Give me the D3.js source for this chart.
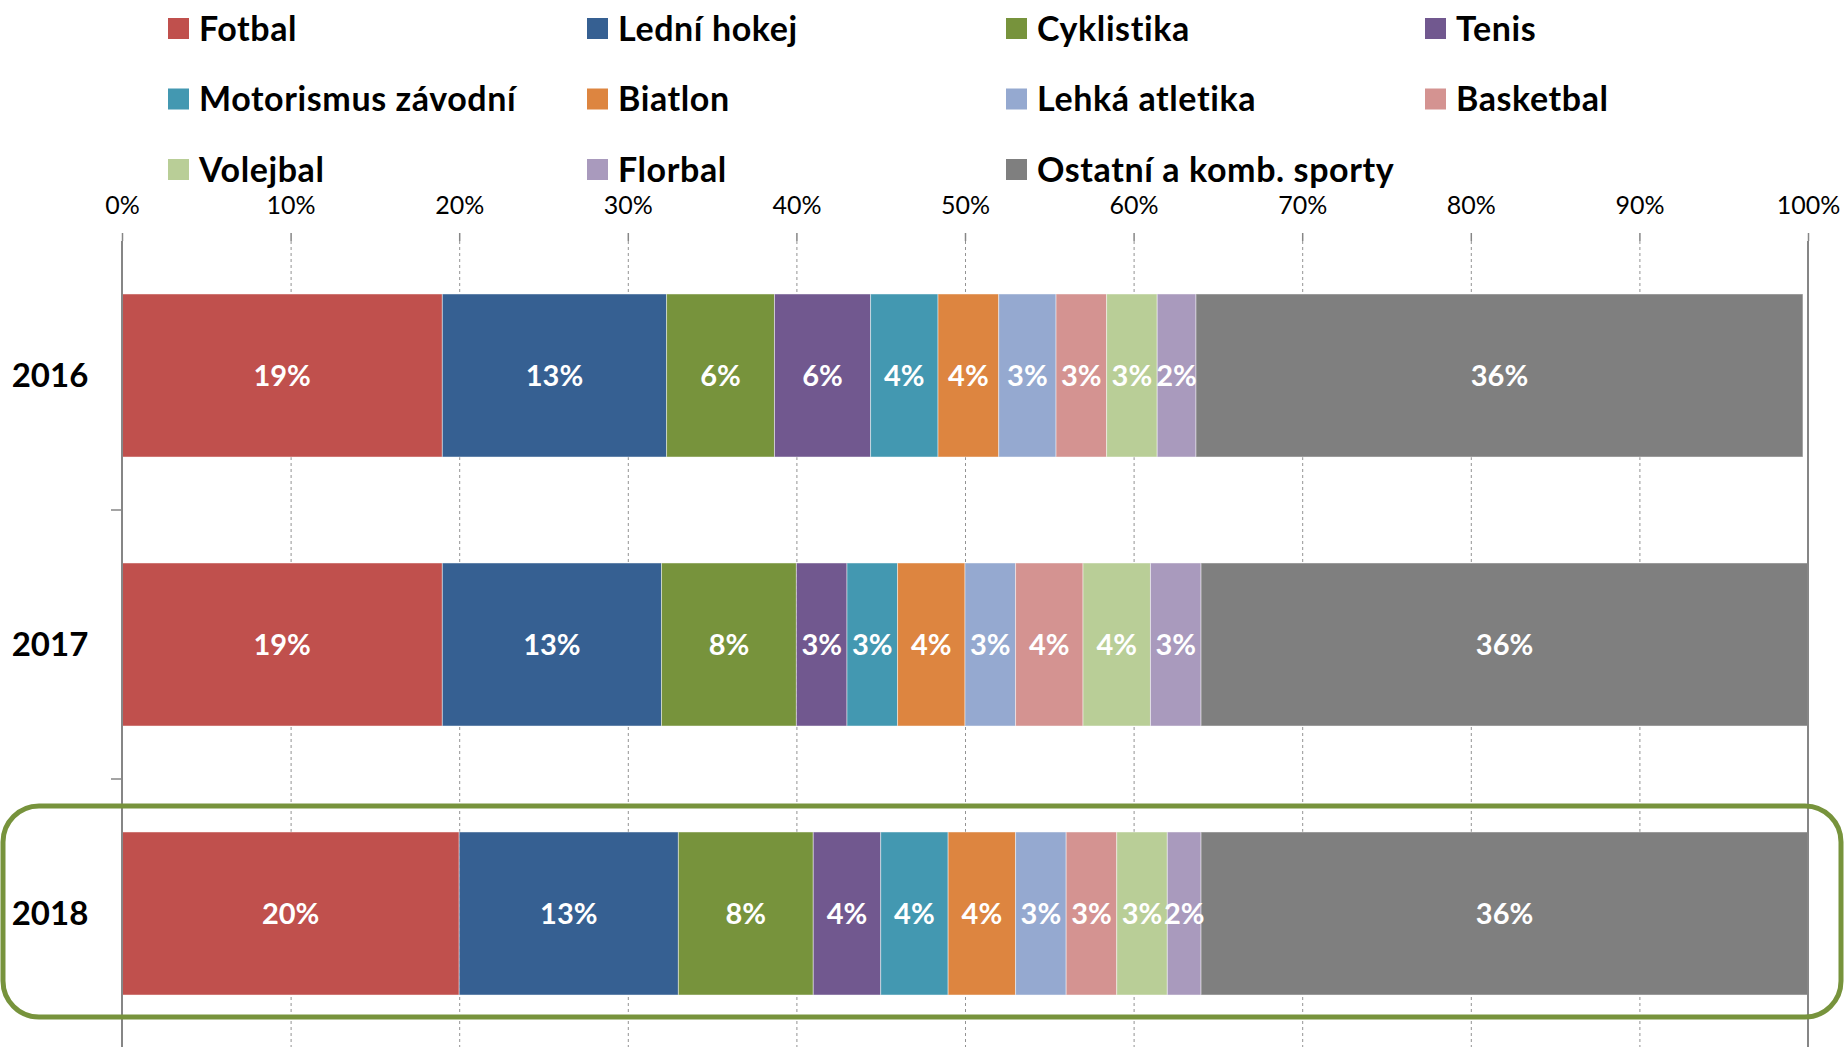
<!DOCTYPE html>
<html>
<head>
<meta charset="utf-8">
<script src="https://cdn.jsdelivr.net/npm/d3@7.9.0/dist/d3.min.js"></script>
<style>
  html, body { margin: 0; padding: 0; background: #fff; }
  svg { display: block; font-family: Lato, "Open Sans", sans-serif; }
</style>
</head>
<body>
<div id="chart"></div>
<script>
// ------- data (percent shares) -------
const years = ['2016', '2017', '2018'];
const sports = [
  'Fotbal', 'Lední hokej', 'Cyklistika', 'Tenis',
  'Motorismus závodní', 'Biatlon', 'Lehká atletika', 'Basketbal',
  'Volejbal', 'Florbal', 'Ostatní a komb. sporty'
];
const colors = [
  '#C0504D', '#366092', '#77933C', '#71588F',
  '#4398B1', '#DD8540', '#95A9D0', '#D49391',
  '#B9CE97', '#A99ABD', '#7F7F7F'
];
const values2016 = [19.0, 13.3, 6.4, 5.7, 4.0, 3.6, 3.4, 3.0, 3.0, 2.3, 36.0];
const values2017 = [19.0, 13.0, 8.0, 3.0, 3.0, 4.0, 3.0, 4.0, 4.0, 3.0, 36.0];
const values2018 = [20.0, 13.0, 8.0, 4.0, 4.0, 4.0, 3.0, 3.0, 3.0, 2.0, 36.0];
const xTicks = [0, 10, 20, 30, 40, 50, 60, 70, 80, 90, 100];
const highlightYear = '2018';

const valuesByYear = { '2016': values2016, '2017': values2017, '2018': values2018 };

// ------- layout -------
const width = 1845, height = 1047;
const plot = { left: 122, right: 1808, top: 241, bottom: 1048 };

const svg = d3.select('#chart').append('svg')
  .attr('width', width)
  .attr('height', height);

const x = d3.scaleLinear().domain([0, 100]).range([plot.left, plot.right]);
const y = d3.scaleBand().domain(years)
  .range([plot.top, plot.bottom])
  .paddingInner(0.394)
  .paddingOuter(0.197);

// stacked segments
const segments = years.flatMap(year => {
  let acc = 0;
  return valuesByYear[year].map((v, i) => {
    const seg = { year, sport: sports[i], color: colors[i], x0: acc, x1: acc + v, value: v };
    acc += v;
    return seg;
  });
});

// ------- gridlines -------
svg.append('g')
  .attr('class', 'gridlines')
  .selectAll('line')
  .data(xTicks.filter(t => t > 0 && t < 100))
  .join('line')
  .attr('x1', d => x(d) + 0.5).attr('x2', d => x(d) + 0.5)
  .attr('y1', plot.top).attr('y2', height)
  .attr('stroke', '#939393')
  .attr('stroke-width', 1)
  .attr('stroke-dasharray', '3,3');

// ------- bars -------
const bars = svg.append('g').attr('class', 'bars');
bars.selectAll('rect')
  .data(segments)
  .join('rect')
  .attr('x', d => x(d.x0))
  .attr('y', d => y(d.year))
  .attr('width', d => x(d.x1) - x(d.x0))
  .attr('height', y.bandwidth())
  .attr('fill', d => d.color)
  .attr('stroke', 'rgba(255,255,255,0.45)')
  .attr('stroke-width', 1);

bars.selectAll('text')
  .data(segments)
  .join('text')
  .attr('x', d => x((d.x0 + d.x1) / 2))
  .attr('y', d => y(d.year) + y.bandwidth() / 2)
  .attr('dy', '0.36em')
  .attr('text-anchor', 'middle')
  .attr('fill', '#fff')
  .attr('font-weight', 700)
  .attr('font-size', 29)
  .text(d => Math.round(d.value) + '%');

// ------- axes -------
const xAxis = d3.axisTop(x)
  .tickValues(xTicks)
  .tickSize(8)
  .tickPadding(19)
  .tickFormat(d => d + '%');

const gx = svg.append('g')
  .attr('transform', `translate(0,${plot.top})`)
  .call(xAxis);
gx.select('.domain').remove();
gx.selectAll('.tick line').attr('stroke', '#868686').attr('stroke-width', 1.5);
gx.selectAll('.tick text')
  .attr('font-size', 25)
  .attr('font-family', 'Lato, sans-serif')
  .attr('fill', '#000');

// left category axis
svg.append('line')
  .attr('x1', plot.left).attr('x2', plot.left)
  .attr('y1', plot.top).attr('y2', height)
  .attr('stroke', '#868686').attr('stroke-width', 2);

// 100% border line
svg.append('line')
  .attr('x1', x(100)).attr('x2', x(100))
  .attr('y1', plot.top).attr('y2', height)
  .attr('stroke', '#868686').attr('stroke-width', 2);

// category tick marks between years
svg.append('g')
  .selectAll('line')
  .data(years.slice(1))
  .join('line')
  .attr('x1', plot.left - 11).attr('x2', plot.left)
  .attr('y1', d => y(d) - y.step() * y.paddingInner() / 2)
  .attr('y2', d => y(d) - y.step() * y.paddingInner() / 2)
  .attr('stroke', '#868686').attr('stroke-width', 1.5);

// year labels
svg.append('g')
  .selectAll('text')
  .data(years)
  .join('text')
  .attr('x', 50)
  .attr('y', d => y(d) + y.bandwidth() / 2)
  .attr('dy', '0.36em')
  .attr('text-anchor', 'middle')
  .attr('font-weight', 700)
  .attr('font-size', 33)
  .attr('fill', '#000')
  .text(d => d);

// ------- highlight around 2018 -------
svg.append('rect')
  .attr('x', 3)
  .attr('y', y(highlightYear) - 26)
  .attr('width', 1838)
  .attr('height', y.bandwidth() + 48)
  .attr('rx', 36).attr('ry', 36)
  .attr('fill', 'none')
  .attr('stroke', '#77933C')
  .attr('stroke-width', 5);

// ------- legend -------
const legend = svg.append('g').attr('class', 'legend');
const item = legend.selectAll('g')
  .data(sports)
  .join('g')
  .attr('transform', (d, i) => `translate(${168 + (i % 4) * 419},${18 + Math.floor(i / 4) * 70.5})`);

item.append('rect')
  .attr('width', 21).attr('height', 21)
  .attr('fill', (d, i) => colors[i]);

item.append('text')
  .attr('x', 31)
  .attr('y', 10.5)
  .attr('dy', '0.36em')
  .attr('font-weight', 700)
  .attr('font-size', 34)
  .attr('letter-spacing', 0.6)
  .attr('fill', '#000')
  .text(d => d);
</script>
</body>
</html>
